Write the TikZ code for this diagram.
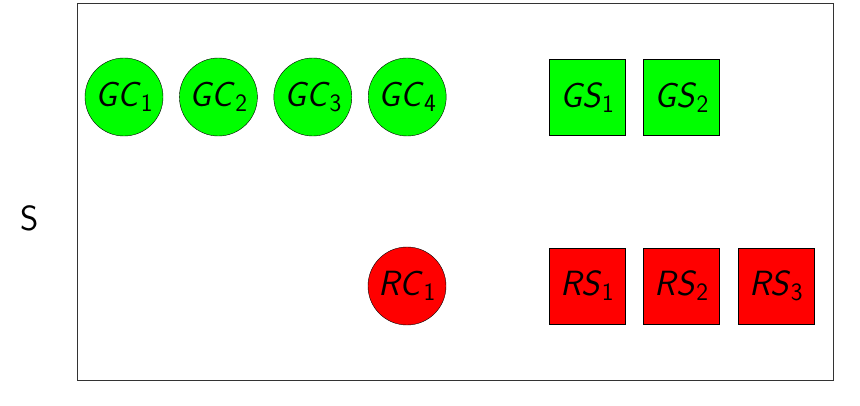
\documentclass[tikz,border=0pt]{standalone}
\usetikzlibrary{positioning}
\newcommand{\nm}[2]{\textit{#1}\raisebox{-5pt}{\fontsize{25}{28}\selectfont #2}}

\tikzset{
  every node/.style={font=\sffamily\fontsize{35}{40}\selectfont},
  gcirc/.style={circle,draw=black,line width=0.4pt,minimum size=78pt,inner sep=0pt},
  gsq/.style={rectangle,draw=black,line width=0.4pt,minimum size=76pt,inner sep=0pt},
  good/.style={fill=green},
  bad/.style={fill=red}
}

\begin{document}
\begin{tikzpicture}[x=1pt,y=-1pt]
  \useasboundingbox (0,0) rectangle (860,406);
  % frame
  \node[draw=black!80,line width=0.8pt,minimum width=756pt,minimum height=377pt,
        inner sep=0pt] (frame) at (455,191.5) {};
  \node (lblS) at (30,218) {S};
  % top row
  \foreach \i in {1,...,4}
    \node[gcirc,good] (gc\i) at ({124+94.4*(\i-1)},97) {\nm{GC}{\i}};
  \foreach \i in {1,2}
    \node[gsq,good] (gs\i) at ({587+94.5*(\i-1)},97.5) {\nm{GS}{\i}};
  % bottom row
  \node[gcirc,bad] (rc1) at (407,286) {\nm{RC}{1}};
  \foreach \i in {1,...,3}
    \node[gsq,bad] (rs\i) at ({587+94.5*(\i-1)},286) {\nm{RS}{\i}};
\end{tikzpicture}
\end{document}
